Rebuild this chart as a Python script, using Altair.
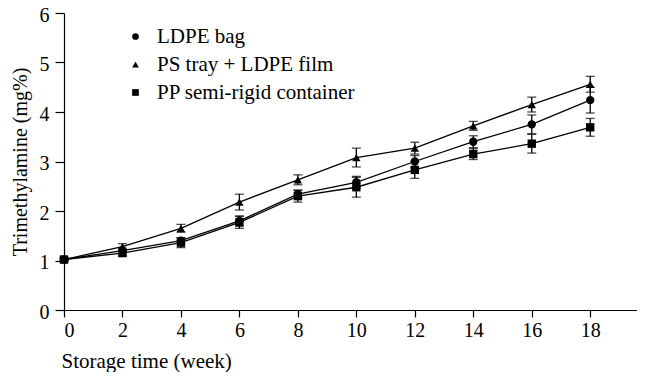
import altair as alt
import pandas as pd

weeks = [0, 2, 4, 6, 8, 10, 12, 14, 16, 18]
series_names = ["LDPE bag", "PS tray + LDPE film", "PP semi-rigid container"]
ldpe_bag = [1.02, 1.20, 1.40, 1.80, 2.34, 2.58, 3.00, 3.40, 3.75, 4.24]
ps_tray = [1.02, 1.28, 1.65, 2.18, 2.63, 3.08, 3.27, 3.72, 4.15, 4.56]
pp_container = [1.02, 1.15, 1.36, 1.77, 2.30, 2.48, 2.83, 3.15, 3.36, 3.69]
ldpe_sd = [0.03, 0.05, 0.06, 0.10, 0.08, 0.12, 0.12, 0.12, 0.19, 0.26]
ps_sd = [0.03, 0.06, 0.08, 0.16, 0.10, 0.19, 0.12, 0.09, 0.15, 0.16]
pp_sd = [0.03, 0.06, 0.10, 0.12, 0.12, 0.20, 0.17, 0.11, 0.19, 0.18]

rows = []
for name, vals, sds in zip(series_names, [ldpe_bag, ps_tray, pp_container], [ldpe_sd, ps_sd, pp_sd]):
    for w, v, s in zip(weeks, vals, sds):
        rows.append({"week": w, "tma": v, "lo": v - s, "hi": v + s, "series": name})
df = pd.DataFrame(rows)

FONT = "Liberation Serif"

x = alt.X("week:Q", scale=alt.Scale(domain=[0, 19.6], nice=False),
          axis=alt.Axis(values=weeks, title="Storage time (week)", titleX=-3, titleY=57,
                        titleAlign="left", titleBaseline="alphabetic", tickSize=7,
                        labelPadding=3))
y = alt.Y("tma:Q", scale=alt.Scale(domain=[0, 6], nice=False),
          axis=alt.Axis(values=[0, 1, 2, 3, 4, 5, 6], title="Trimethylamine (mg%)",
                        titleX=-38, titleY=148.5, titleAngle=-90, titleAlign="center",
                        titleBaseline="alphabetic", titleFontSize=20, tickSize=9,
                        labelPadding=6, labelOffset=2))

base = alt.Chart(df)

lines = base.mark_line(color="black", strokeWidth=1.3).encode(x=x, y=y, detail="series:N")

rules = base.mark_rule(color="black", strokeWidth=1.3).encode(x="week:Q", y="lo:Q", y2="hi:Q")
caps_hi = base.mark_tick(color="black", orient="horizontal", size=9, thickness=1.3).encode(x="week:Q", y="hi:Q")
caps_lo = base.mark_tick(color="black", orient="horizontal", size=9, thickness=1.3).encode(x="week:Q", y="lo:Q")

points = base.mark_point(filled=True, color="black", opacity=1, size=70).encode(
    x="week:Q", y="tma:Q",
    shape=alt.Shape("series:N",
                    scale=alt.Scale(domain=series_names, range=["circle", "triangle-up", "square"]),
                    legend=alt.Legend(title=None, orient="none", legendX=61, legendY=13,
                                      symbolFillColor="black", symbolStrokeColor="black",
                                      symbolSize=45, labelFontSize=21, labelFont=FONT,
                                      labelColor="black", labelOffset=11, rowPadding=6,
                                      labelLimit=0, padding=0)),
)

chart = (lines + rules + caps_hi + caps_lo + points).properties(
    width=573, height=297,
    autosize=alt.AutoSizeParams(type="none"),
    padding={"left": 56, "top": 5, "right": 0, "bottom": 62},
).configure_view(stroke=None).configure_axis(
    grid=False, domainColor="black", tickColor="black", labelColor="black",
    titleColor="black", labelFont=FONT, titleFont=FONT, labelFontSize=20,
    titleFontSize=21, titleFontWeight="normal", domainWidth=1.2, tickWidth=1.2,
)

chart.save("out.html", embed_options={"renderer": "svg", "actions": False})
